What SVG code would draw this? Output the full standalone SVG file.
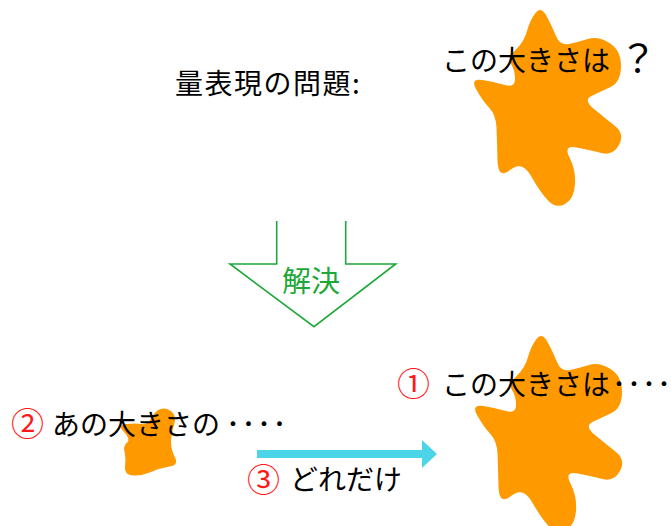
<svg xmlns="http://www.w3.org/2000/svg" xmlns:xlink="http://www.w3.org/1999/xlink" width="671" height="526" viewBox="0 0 671 526">
<style>
.blob{fill:#ff9900;stroke:none}
.t{font-family:"Noto Sans CJK JP","Noto Sans CJK SC",sans-serif;font-size:28px;fill:#000}
.red{fill:#ff1a1a;font-size:33px}
.dot{text-anchor:middle}
.g{font-family:"Noto Sans CJK JP","Noto Sans CJK SC",sans-serif;font-size:29px;fill:#1ea83a}
</style>
<defs>
<path id="bigblob" class="blob" d="M535.5,13 Q541,6 546.5,16 Q552,26 556,36 Q560,46 569,44 Q578,42 588,39 Q598,36 609.5,43 Q621,50 621,66 Q621,82 610.5,87 Q600,92 591.5,96 Q583,100 594,109 Q605,118 615,126 Q625,134 619,145 Q613,156 601.5,153 Q590,150 576.5,147.5 Q563,145 569.5,157.5 Q576,170 575,184.5 Q574,199 565,204 Q556,209 548,200.5 Q540,192 531,176 Q522,160 510,170 Q498,180 497.5,160 Q497,140 496.5,127.5 Q496,115 489,107.5 Q482,100 476,89 Q470,78 482.5,80 Q495,82 505,85 Q515,88 515,79 Q515,70 511,64 Q507,58 515.5,50 Q524,42 527,31 Q530,20 535.5,13 Z"/>
<marker id="cyanhead" markerUnits="userSpaceOnUse" markerWidth="16" markerHeight="28" refX="0" refY="14" orient="auto" overflow="visible">
<path d="M0,0 L15,14 L0,28 Z" fill="#4cd4e8"/>
</marker>
</defs>
<g id="title">
<text class="t" x="175" y="94" letter-spacing="1.5">量表現の問題:</text>
</g>
<g id="blob-top">
<use xlink:href="#bigblob" href="#bigblob"/>
<text class="t" x="442" y="71">この大きさは</text>
<text class="t" x="619" y="72" style="font-size:38px">？</text>
</g>
<g id="solve-arrow">
<path d="M276.7,221 V264 H230 L314,326.7 L395.7,264 H345.7 V221" fill="none" stroke="#1ea83a" stroke-width="1.6"/>
<text class="g" x="282" y="292">解決</text>
</g>
<g id="blob-bottom">
<use xlink:href="#bigblob" href="#bigblob" transform="translate(1,326)"/>
<text class="t red" x="397" y="396">①</text>
<text class="t" x="442" y="395">この大きさは</text>
<text class="t dot" x="619 634 649 664" y="395">････</text>
</g>
<g id="blob-small">
<path class="blob" d="M160.5,409 Q166,407 171.5,411.5 Q177,416 174,425 Q171,434 171,442 Q171,450 175,457.5 Q179,465 169.5,466.5 Q160,468 151,472 Q142,476 133,475.5 Q124,475 125,466.5 Q126,458 124.5,452 Q123,446 127,442.5 Q131,439 124,432 Q117,425 126,424 Q135,423 141.5,424 Q148,425 151.5,418 Q155,411 160.5,409 Z"/>
<text class="t red" x="11" y="436">②</text>
<text class="t" x="52" y="435">あの大きさの</text>
<text class="t dot" x="233 248.5 264 279.5" y="435">････</text>
</g>
<g id="connectors">
<line x1="257" y1="454" x2="422" y2="454" stroke="#4cd4e8" stroke-width="8" marker-end="url(#cyanhead)"/>
<text class="t red" x="247" y="492">③</text>
<text class="t" x="290" y="490">どれだけ</text>
</g>
</svg>
